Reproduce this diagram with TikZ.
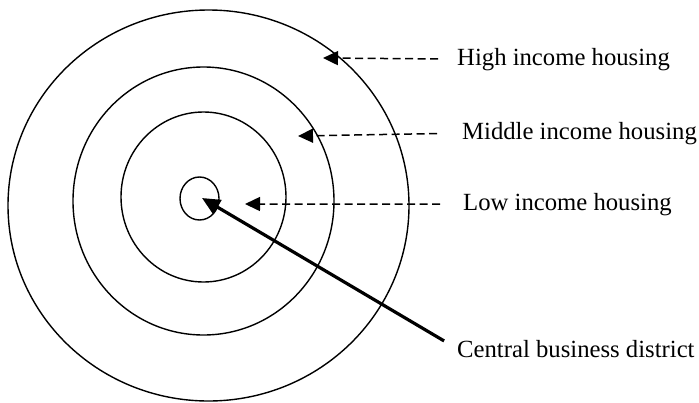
\documentclass[tikz,border=0pt]{standalone}
\usepackage{fontspec}
\setmainfont{Liberation Serif}
\usetikzlibrary{arrows.meta,shapes.geometric}

\begin{document}
\begin{tikzpicture}[
    x=1pt,y=-1pt,
    ring/.style   = {ellipse,draw=black,line width=1.4pt,inner sep=0pt},
    lab/.style    = {anchor=base west,inner sep=0pt,
                     font=\fontsize{24.7}{29}\selectfont},
    dl/.style     = {-{Triangle[length=15pt,width=14pt]},black,line width=1.5pt,
                     dash pattern=on 8pt off 4.5pt},
    cl/.style     = {-{Triangle[length=18pt,width=16pt]},black,line width=3.2pt},
  ]
  \useasboundingbox (0,0) rectangle (699,402);

  % concentric zones
  \node[ring,minimum width=401pt,minimum height=391pt] (high) at (208.5,205.5) {};
  \node[ring,minimum width=261pt,minimum height=268pt] (mid)  at (203.5,201)   {};
  \node[ring,minimum width=165pt,minimum height=170pt] (low)  at (203.5,197)   {};
  \node[ring,minimum width=39pt, minimum height=43pt]  (cbd)  at (199.5,198.5) {};

  \coordinate (hitip)  at (323,58);
  \coordinate (midtip) at (298,136);
  \coordinate (lotip)  at (245,204);
  \coordinate (cbdtip) at (202,198);

  \node[lab] (hilab)  at (457,65)  {High income housing};
  \node[lab] (midlab) at (462,139) {Middle income housing};
  \node[lab] (lolab)  at (463,210) {Low income housing};
  \node[lab] (cbdlab) at (457,357) {Central business district};

  \draw[dl,shorten <=19pt] (hilab.west)  -- (hitip);
  \draw[dl,shorten <=25pt] (midlab.west) -- (midtip);
  \draw[dl,shorten <=23pt] (lolab.west)  -- (lotip);
  \draw[cl,shorten <=15pt] (cbdlab.west) -- (cbdtip);

\end{tikzpicture}
\end{document}
